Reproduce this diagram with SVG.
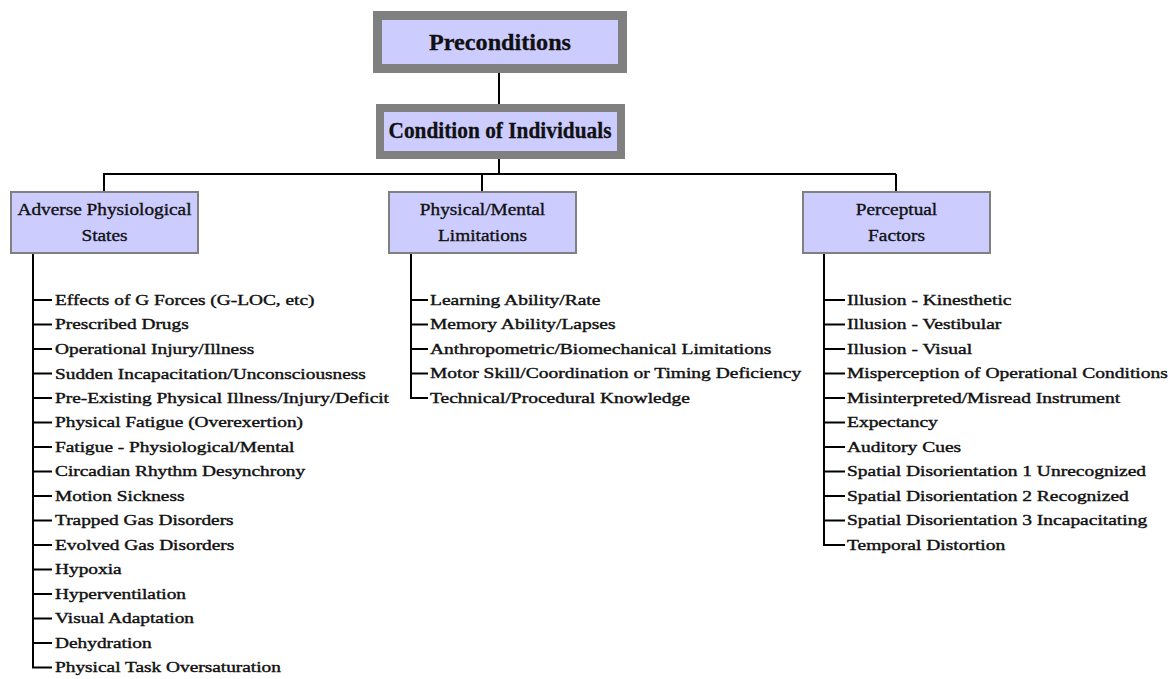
<svg xmlns="http://www.w3.org/2000/svg" width="1174" height="679" viewBox="0 0 1174 679">
  <style>
    .hdr { fill: #ccccff; stroke: #808080; }
    .cat { fill: #ccccff; stroke: #808080; stroke-width: 2; }
    .wire { fill: none; stroke: #000; stroke-width: 2; }
    .title { font-family: "Liberation Serif", "Times New Roman", serif; font-weight: bold; font-size: 23px; fill: #111; stroke: #111; stroke-width: 0.3; text-anchor: middle; }
    .catlbl { font-family: "Liberation Serif", "Times New Roman", serif; font-size: 16.5px; fill: #111; stroke: #111; stroke-width: 0.35; text-anchor: middle; }
    .item { font-family: "Liberation Serif", "Times New Roman", serif; font-size: 15px; fill: #111; stroke: #111; stroke-width: 0.4; }
  </style>
  <rect width="1174" height="679" fill="#fff"/>

  <!-- connectors -->
  <g id="connectors" class="wire">
    <path d="M499 73V105"/>
    <path d="M499 159V174"/>
    <path d="M103 174H896"/>
    <path d="M104 174V192M482 174V192M896 174V192"/>
    <!-- adverse physiological states list -->
    <path d="M33 253V667.5H52"/>
    <path d="M33 300H52M33 324.5H52M33 349H52M33 373.5H52M33 398H52M33 422.5H52M33 447H52M33 471.5H52M33 496H52M33 520.5H52M33 545H52M33 569.5H52M33 594H52M33 618.5H52M33 643H52"/>
    <!-- physical/mental limitations list -->
    <path d="M411 253V398H428"/>
    <path d="M411 300H428M411 324.5H428M411 349H428M411 373.5H428"/>
    <!-- perceptual factors list -->
    <path d="M824 253V545H845"/>
    <path d="M824 300H845M824 324.5H845M824 349H845M824 373.5H845M824 398H845M824 422.5H845M824 447H845M824 471.5H845M824 496H845M824 520.5H845"/>
  </g>

  <g id="preconditions">
    <rect class="hdr" x="377.5" y="15.5" width="245" height="53" stroke-width="9"/>
    <text class="title" x="500" y="50" textLength="142" lengthAdjust="spacingAndGlyphs">Preconditions</text>
  </g>

  <g id="condition-of-individuals">
    <rect class="hdr" x="380" y="108" width="241" height="47" stroke-width="8"/>
    <text class="title" x="500" y="138" textLength="223" lengthAdjust="spacingAndGlyphs">Condition of Individuals</text>
  </g>

  <g id="adverse-physiological-states">
    <rect class="cat" x="11" y="192" width="187" height="61"/>
    <g transform="translate(104.5,0) scale(1.17,1)">
      <text class="catlbl" x="0" y="215">Adverse Physiological</text>
      <text class="catlbl" x="0" y="241">States</text>
    </g>
    <g transform="translate(55,0) scale(1.29,1)">
      <text class="item" x="0" y="305">Effects of G Forces (G-LOC, etc)</text>
      <text class="item" x="0" y="329.5">Prescribed Drugs</text>
      <text class="item" x="0" y="354">Operational Injury/Illness</text>
      <text class="item" x="0" y="378.5">Sudden Incapacitation/Unconsciousness</text>
      <text class="item" x="0" y="403">Pre-Existing Physical Illness/Injury/Deficit</text>
      <text class="item" x="0" y="427.5">Physical Fatigue (Overexertion)</text>
      <text class="item" x="0" y="452">Fatigue - Physiological/Mental</text>
      <text class="item" x="0" y="476.5">Circadian Rhythm Desynchrony</text>
      <text class="item" x="0" y="501">Motion Sickness</text>
      <text class="item" x="0" y="525.5">Trapped Gas Disorders</text>
      <text class="item" x="0" y="550">Evolved Gas Disorders</text>
      <text class="item" x="0" y="574.5">Hypoxia</text>
      <text class="item" x="0" y="599">Hyperventilation</text>
      <text class="item" x="0" y="623.5">Visual Adaptation</text>
      <text class="item" x="0" y="648">Dehydration</text>
      <text class="item" x="0" y="672.5">Physical Task Oversaturation</text>
    </g>
  </g>

  <g id="physical-mental-limitations">
    <rect class="cat" x="389" y="192" width="187" height="61"/>
    <g transform="translate(482.5,0) scale(1.17,1)">
      <text class="catlbl" x="0" y="215">Physical/Mental</text>
      <text class="catlbl" x="0" y="241">Limitations</text>
    </g>
    <g transform="translate(430,0) scale(1.3,1)">
      <text class="item" x="0" y="305">Learning Ability/Rate</text>
      <text class="item" x="0" y="329.5">Memory Ability/Lapses</text>
      <text class="item" x="0" y="354">Anthropometric/Biomechanical Limitations</text>
      <text class="item" x="0" y="378.5">Motor Skill/Coordination or Timing Deficiency</text>
      <text class="item" x="0" y="403">Technical/Procedural Knowledge</text>
    </g>
  </g>

  <g id="perceptual-factors">
    <rect class="cat" x="803" y="192" width="187" height="61"/>
    <g transform="translate(896.5,0) scale(1.17,1)">
      <text class="catlbl" x="0" y="215">Perceptual</text>
      <text class="catlbl" x="0" y="241">Factors</text>
    </g>
    <g transform="translate(847,0) scale(1.3,1)">
      <text class="item" x="0" y="305">Illusion - Kinesthetic</text>
      <text class="item" x="0" y="329.5">Illusion - Vestibular</text>
      <text class="item" x="0" y="354">Illusion - Visual</text>
      <text class="item" x="0" y="378.5">Misperception of Operational Conditions</text>
      <text class="item" x="0" y="403">Misinterpreted/Misread Instrument</text>
      <text class="item" x="0" y="427.5">Expectancy</text>
      <text class="item" x="0" y="452">Auditory Cues</text>
      <text class="item" x="0" y="476.5">Spatial Disorientation 1 Unrecognized</text>
      <text class="item" x="0" y="501">Spatial Disorientation 2 Recognized</text>
      <text class="item" x="0" y="525.5">Spatial Disorientation 3 Incapacitating</text>
      <text class="item" x="0" y="550">Temporal Distortion</text>
    </g>
  </g>
</svg>
